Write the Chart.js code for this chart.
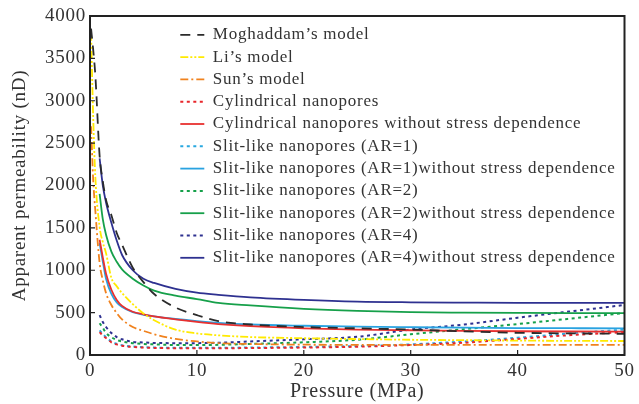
<!DOCTYPE html>
<html>
<head>
<meta charset="utf-8">
<script src="https://cdn.jsdelivr.net/npm/chart.js@4.4.1/dist/chart.umd.min.js"></script>
<style>
  html, body { margin: 0; padding: 0; background: #fff; }
  #wrap { width: 639px; height: 404px; }
</style>
</head>
<body>
<div id="wrap"><canvas id="chart" width="639" height="404"></canvas></div>
<script>
// pressure in MPa
const pressure = [0.1, 0.3, 0.5, 0.9, 1.2, 1.5, 2, 2.5, 3, 4, 5, 6, 8, 10, 12, 15, 20, 25, 30, 35, 40, 45, 50]

// apparent permeability (nD)
const moghaddam = [3850, 3600, 3300, 2350, 2050, 1830, 1650, 1440, 1300, 1030, 860, 720, 560, 470, 400, 360, 330, 315, 300, 278, 262, 255, 250]
const liModel = [3800, 2800, 2100, 1510, 1330, 1200, 910, 810, 730, 600, 490, 410, 300, 255, 232, 212, 198, 188, 180, 175, 170, 167, 165]
const sunModel = [2700, 2065, 1700, 1085, 880, 730, 590, 495, 420, 330, 285, 245, 190, 160, 140, 130, 122, 120, 120, 120, 120, 120, 120]
const cylStress = [null, null, null, 270, 230, 200, 150, 125, 110, 95, 88, 84, 80, 80, 80, 82, 88, 98, 118, 145, 190, 235, 270]
const cylNoStress = [null, null, null, 1360, 1150, 960, 770, 650, 580, 510, 480, 455, 420, 390, 365, 340, 315, 300, 292, 285, 280, 277, 275]
const ar1Stress = [null, null, null, 290, 245, 210, 160, 132, 116, 100, 92, 88, 85, 85, 86, 88, 95, 105, 125, 160, 205, 255, 300]
const ar1NoStress = [null, null, null, 1320, 1100, 900, 720, 620, 565, 505, 475, 455, 425, 400, 380, 360, 345, 335, 328, 322, 318, 316, 315]
const ar2Stress = [null, null, null, 375, 320, 260, 210, 177, 160, 140, 130, 125, 118, 118, 120, 130, 150, 180, 245, 305, 365, 430, 495]
const ar2NoStress = [null, null, null, 1900, 1600, 1420, 1220, 1100, 1010, 900, 820, 760, 700, 660, 615, 585, 545, 520, 505, 500, 497, 495, 495]
const ar4Stress = [null, null, null, 470, 390, 330, 260, 212, 185, 155, 148, 142, 140, 140, 145, 160, 185, 215, 300, 360, 440, 515, 590]
const ar4NoStress = [null, null, null, 2320, 2000, 1800, 1560, 1350, 1180, 1000, 900, 850, 780, 735, 710, 680, 650, 630, 622, 618, 615, 615, 615]

const xTicks = [0, 10, 20, 30, 40, 50]
const yTicks = [0, 500, 1000, 1500, 2000, 2500, 3000, 3500, 4000]

const serif = "'Liberation Serif', 'Times New Roman', serif"
const textColor = '#333'

function series (label, values, color, dash, width) {
  return {
    label: label,
    data: values.map((v, i) => ({ x: pressure[i], y: v })),
    borderColor: color,
    backgroundColor: color,
    borderDash: dash,
    borderWidth: width || 1.8,
    pointRadius: 0,
    cubicInterpolationMode: 'monotone',
    spanGaps: false
  }
}

const dotted = [3, 3.5]

const datasets = [
  series('Moghaddam\u2019s model', moghaddam, '#2b2b2b', [10, 7]),
  series('Li\u2019s model', liModel, '#ffea00', [8, 2, 2, 2, 2, 2]),
  series('Sun\u2019s model', sunModel, '#f0821e', [8, 3, 2, 3]),
  series('Cylindrical nanopores', cylStress, '#e8262b', dotted, 2),
  series('Cylindrical nanopores without stress dependence', cylNoStress, '#e8302f', []),
  series('Slit-like nanopores (AR=1)', ar1Stress, '#29a8e0', dotted, 2),
  series('Slit-like nanopores (AR=1)without stress dependence', ar1NoStress, '#29a2e0', []),
  series('Slit-like nanopores (AR=2)', ar2Stress, '#16a04a', dotted, 2),
  series('Slit-like nanopores (AR=2)without stress dependence', ar2NoStress, '#16a04a', []),
  series('Slit-like nanopores (AR=4)', ar4Stress, '#2e3190', dotted, 2),
  series('Slit-like nanopores (AR=4)without stress dependence', ar4NoStress, '#2e3190', [])
]

// the original lettering is a bit wider than Liberation Serif
const spacing = {
  id: 'spacing',
  beforeDraw (chart) { chart.ctx.letterSpacing = '0.75px' }
}

// frame + inward tick marks
const framePlugin = {
  id: 'frame',
  afterDraw (chart) {
    const { ctx, chartArea: a, scales } = chart
    ctx.save()
    ctx.strokeStyle = '#222'
    ctx.lineWidth = 2
    ctx.strokeRect(a.left, a.top, a.right - a.left, a.bottom - a.top)
    ctx.lineWidth = 1.2
    ctx.beginPath()
    yTicks.forEach(v => {
      const y = scales.y.getPixelForValue(v)
      ctx.moveTo(a.left, y)
      ctx.lineTo(a.left + 5, y)
    })
    xTicks.forEach(v => {
      const x = scales.x.getPixelForValue(v)
      ctx.moveTo(x, a.bottom)
      ctx.lineTo(x, a.bottom - 5)
    })
    ctx.stroke()
    ctx.restore()
  }
}

// move the legend inside the plot
const legendPlace = {
  id: 'legendPlace',
  afterLayout (chart) {
    const lg = chart.legend
    lg.left = 175
    lg.right = 629
    lg.top = 21
    lg.bottom = 340
    lg.width = lg.right - lg.left
    lg.height = lg.bottom - lg.top
  }
}

new Chart(document.getElementById('chart'), {
  type: 'line',
  data: { datasets: datasets },
  plugins: [spacing, framePlugin, legendPlace],
  options: {
    responsive: false,
    animation: false,
    layout: { padding: { top: 16, right: 10, left: 0, bottom: 0 } },
    plugins: {
      tooltip: { enabled: false },
      legend: {
        position: 'chartArea',
        align: 'start',
        labels: {
          usePointStyle: true,
          pointStyle: 'line',
          pointStyleWidth: 24,
          boxWidth: 24,
          boxHeight: 17,
          padding: 5.3,
          color: textColor,
          font: { family: serif, size: 17 },
          generateLabels (chart) {
            const items = Chart.defaults.plugins.legend.labels.generateLabels(chart)
            items.forEach(item => {
              const ds = chart.data.datasets[item.datasetIndex]
              item.lineDash = ds.borderDash
              item.lineWidth = ds.borderWidth
              item.strokeStyle = ds.borderColor
            })
            return items
          }
        }
      }
    },
    scales: {
      x: {
        type: 'linear',
        min: 0,
        max: 50,
        afterFit (s) { s.height = 49 },
        afterBuildTicks (s) { s.ticks = xTicks.map(v => ({ value: v })) },
        grid: { display: false, drawTicks: false },
        border: { display: false },
        ticks: { color: textColor, padding: 5, maxRotation: 0, font: { family: serif, size: 19 }, callback: v => String(v) },
        title: { display: true, text: 'Pressure (MPa)', color: textColor, padding: { top: 0, bottom: 0 }, font: { family: serif, size: 20 } }
      },
      y: {
        type: 'linear',
        min: 0,
        max: 4000,
        afterFit (s) { s.width = 90 },
        afterBuildTicks (s) { s.ticks = yTicks.map(v => ({ value: v })) },
        grid: { display: false, drawTicks: false },
        border: { display: false },
        ticks: { color: textColor, padding: 4, font: { family: serif, size: 19 }, callback: v => String(v) },
        title: { display: true, text: 'Apparent permeability (nD)', color: textColor, padding: { top: 9, bottom: 0 }, font: { family: serif, size: 19 } }
      }
    }
  }
})
</script>
</body>
</html>
